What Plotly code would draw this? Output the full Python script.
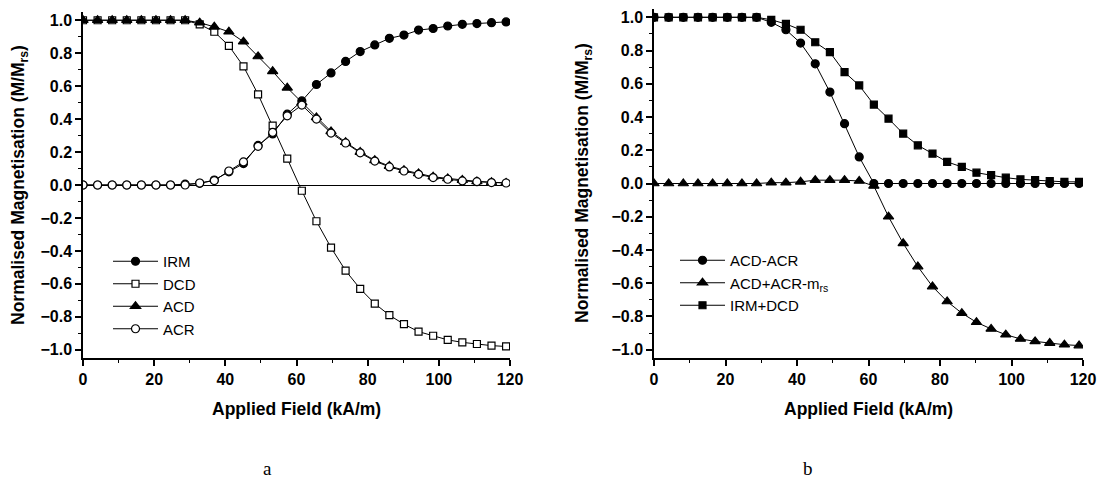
import plotly.graph_objects as go

W, H = 1104, 482

field = [0, 4.1, 8.2, 12.3, 16.4, 20.5, 24.6, 28.7, 32.8, 36.9, 41.0, 45.1, 49.2, 53.3, 57.4,
         61.5, 65.6, 69.7, 73.8, 77.9, 82.0, 86.1, 90.2, 94.3, 98.4, 102.5, 106.6, 110.7, 114.8, 118.9]

irm = [0, 0, 0, 0, 0, 0, 0, 0.005, 0.01, 0.03, 0.08, 0.13, 0.24, 0.31, 0.43,
       0.51, 0.61, 0.68, 0.75, 0.81, 0.85, 0.89, 0.91, 0.94, 0.95, 0.965, 0.975, 0.98, 0.985, 0.99]
dcd = [1, 1, 1, 1, 1, 1, 1, 1, 0.975, 0.93, 0.845, 0.72, 0.55, 0.36, 0.16,
       -0.035, -0.22, -0.38, -0.52, -0.63, -0.72, -0.79, -0.845, -0.89, -0.915, -0.94, -0.955, -0.965, -0.975, -0.98]
acd = [1, 1, 1, 1, 1, 1, 1, 1, 0.985, 0.96, 0.93, 0.87, 0.78, 0.69, 0.59,
       0.50, 0.41, 0.325, 0.26, 0.2, 0.15, 0.115, 0.09, 0.07, 0.05, 0.04, 0.03, 0.022, 0.017, 0.013]
acr = [0, 0, 0, 0, 0, 0, 0, 0, 0.012, 0.027, 0.085, 0.14, 0.235, 0.32, 0.42,
       0.485, 0.40, 0.315, 0.255, 0.195, 0.145, 0.11, 0.085, 0.065, 0.045, 0.035, 0.025, 0.02, 0.015, 0.012]

acd_minus_acr = [1, 1, 1, 1, 1, 1, 1, 1, 0.97, 0.925, 0.845, 0.72, 0.55, 0.36, 0.16,
                 0.0, 0.0, 0.0, 0.0, 0.0, 0.0, 0.0, 0.0, 0.0, 0.0, 0.0, 0.0, 0.0, 0.0, 0.0]
acd_plus_acr_mrs = [0, 0, 0, 0, 0, 0, 0, 0, 0.005, 0.005, 0.01, 0.02, 0.02, 0.02, 0.015,
                    -0.015, -0.2, -0.36, -0.5, -0.62, -0.71, -0.78, -0.835, -0.875, -0.91, -0.935, -0.95, -0.96, -0.97, -0.975]
irm_plus_dcd = [1, 1, 1, 1, 1, 1, 1, 1, 0.985, 0.96, 0.925, 0.85, 0.79, 0.67, 0.59,
                0.475, 0.39, 0.30, 0.23, 0.18, 0.13, 0.10, 0.065, 0.05, 0.035, 0.025, 0.02, 0.015, 0.01, 0.01]

x_ticks = [0, 20, 40, 60, 80, 100, 120]
y_ticks = [-1.0, -0.8, -0.6, -0.4, -0.2, 0.0, 0.2, 0.4, 0.6, 0.8, 1.0]

SANS = "Liberation Sans"
fig = go.Figure()


def add(x, y, name, symbol, fill, size, xa, ya, legend):
    fig.add_trace(go.Scatter(
        x=x, y=y, name=name, mode="lines+markers", xaxis=xa, yaxis=ya, legend=legend,
        line=dict(color="black", width=1),
        marker=dict(symbol=symbol, size=size, color=fill, line=dict(color="black", width=1.2)),
    ))


add(field, irm, "IRM", "circle", "black", 8, "x", "y", "legend")
add(field, dcd, "DCD", "square", "white", 7, "x", "y", "legend")
add(field, acd, "ACD", "triangle-up", "black", 9, "x", "y", "legend")
add(field, acr, "ACR", "circle", "white", 8, "x", "y", "legend")

add(field, acd_minus_acr, "ACD-ACR", "circle", "black", 8, "x2", "y2", "legend2")
add(field, acd_plus_acr_mrs, "ACD+ACR-m<sub>rs</sub>", "triangle-up", "black", 9, "x2", "y2", "legend2")
add(field, irm_plus_dcd, "IRM+DCD", "square", "black", 7, "x2", "y2", "legend2")

tickfont = dict(family=SANS, size=16, color="black", weight="bold")


def xax(domain, anchor):
    return dict(domain=domain, anchor=anchor, range=[0, 120], tickvals=x_ticks,
                ticks="outside", ticklen=6, tickwidth=1.5, tickcolor="black",
                showline=True, linecolor="black", linewidth=1.5, showgrid=False, zeroline=False,
                tickfont=tickfont, automargin=False,
                minor=dict(dtick=10, tick0=0, ticks="outside", ticklen=3, tickwidth=1.2, tickcolor="black"))


def yax(domain, anchor, zl):
    return dict(domain=domain, anchor=anchor, range=[-1.05, 1.05], tickvals=y_ticks,
                tickformat=".1f", ticks="outside", ticklen=6, tickwidth=1.5, tickcolor="black",
                showline=True, linecolor="black", linewidth=1.5, showgrid=False,
                zeroline=zl, zerolinecolor="black", zerolinewidth=1,
                tickfont=tickfont, automargin=False,
                minor=dict(dtick=0.1, tick0=0, ticks="outside", ticklen=3, tickwidth=1.2, tickcolor="black"))


legfont = dict(family=SANS, size=15, color="black")
fig.update_layout(
    width=W, height=H, margin=dict(l=0, r=0, t=0, b=0),
    paper_bgcolor="white", plot_bgcolor="white",
    xaxis=xax([83 / W, 510 / W], "y"),
    yaxis=yax([1 - 358 / H, 1 - 12 / H], "x", True),
    xaxis2=xax([654 / W, 1083 / W], "y2"),
    yaxis2=yax([1 - 358 / H, 1 - 9 / H], "x2", False),
    legend=dict(x=108 / W, y=1 - 245 / H, xanchor="left", yanchor="top", bgcolor="rgba(0,0,0,0)",
                font=legfont, tracegroupgap=0, itemwidth=45),
    legend2=dict(x=675 / W, y=1 - 244 / H, xanchor="left", yanchor="top", bgcolor="rgba(0,0,0,0)",
                 font=legfont, tracegroupgap=0, itemwidth=45),
    showlegend=True,
)

titlefont = dict(family=SANS, size=17.5, color="black", weight="bold")
ann = [
    dict(text="Applied Field (kA/m)", x=297 / W, y=1 - 409 / H, font=titlefont),
    dict(text="Applied Field (kA/m)", x=868 / W, y=1 - 409 / H, font=titlefont),
    dict(text="Normalised Magnetisation (M/M<sub>rs</sub>)", x=20 / W, y=1 - 185 / H, textangle=-90, font=titlefont),
    dict(text="Normalised Magnetisation (M/M<sub>rs</sub>)", x=583 / W, y=1 - 183 / H, textangle=-90, font=titlefont),
    dict(text="a", x=267 / W, y=1 - 468 / H, font=dict(family="Liberation Serif", size=19, color="black")),
    dict(text="b", x=808 / W, y=1 - 468 / H, font=dict(family="Liberation Serif", size=19, color="black")),
]
for a in ann:
    a.update(xref="paper", yref="paper", showarrow=False, xanchor="center", yanchor="middle")
fig.update_layout(annotations=ann)

fig.write_html("out.html", config={"displayModeBar": False},
               post_script="document.body.style.margin='0';document.body.style.overflow='hidden';")
